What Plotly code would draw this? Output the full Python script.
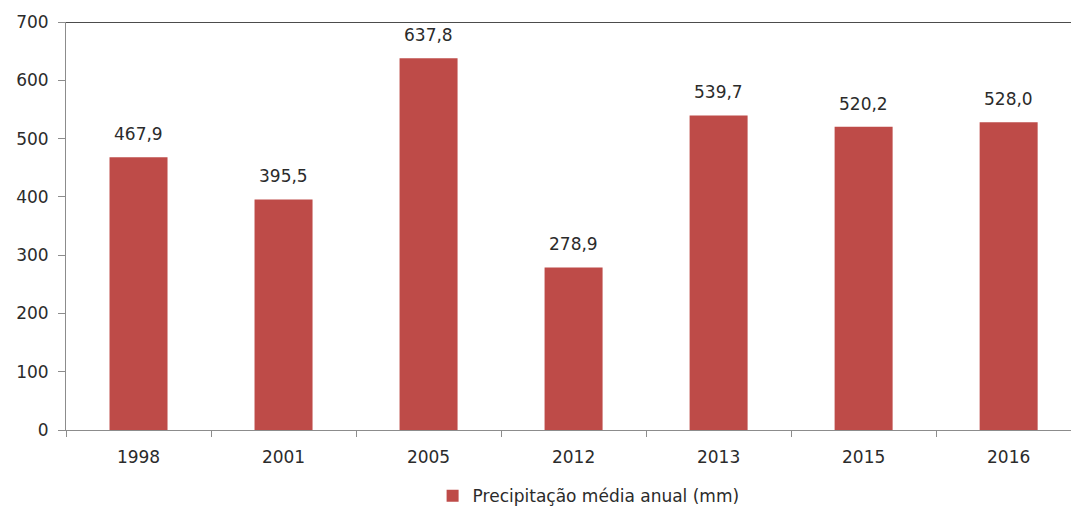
import plotly.graph_objects as go

anos = ["1998", "2001", "2005", "2012", "2013", "2015", "2016"]
precipitacao = [467.9, 395.5, 637.8, 278.9, 539.7, 520.2, 528.0]
serie_nome = "Precipitação média anual (mm)"

cor_barra = "#BE4B48"
fonte = "DejaVu Sans"
cor_texto = "#2B2B2B"
cor_eixo = "#8C8C8C"

fig = go.Figure()
fig.add_trace(go.Bar(
    x=anos,
    y=precipitacao,
    name=serie_nome,
    marker=dict(color=cor_barra, line=dict(width=0)),
    showlegend=True,
))

# rótulos de valor acima de cada barra (vírgula decimal)
for i, valor in enumerate(precipitacao):
    fig.add_annotation(
        x=i, y=valor, xref="x", yref="y",
        text=f"{valor:.1f}".replace(".", ","),
        showarrow=False, yanchor="bottom", yshift=11,
        font=dict(family=fonte, size=17, color=cor_texto),
    )

# linha superior na altura máxima da escala
fig.add_shape(type="line", xref="paper", yref="y", x0=0, x1=1, y0=700, y1=700,
              line=dict(color="#111111", width=1.5))

fig.update_layout(
    width=1071, height=512,
    margin=dict(l=66, r=0, t=22, b=82, autoexpand=False),
    paper_bgcolor="white", plot_bgcolor="white",
    bargap=0.6,
    font=dict(family=fonte, size=17, color=cor_texto),
    showlegend=True,
    legend=dict(orientation="h", x=0.52, xanchor="center",
                yref="container", y=0.031, yanchor="middle",
                font=dict(family=fonte, size=17, color=cor_texto),
                itemwidth=30),
    xaxis=dict(
        type="category",
        range=[-0.5, 6.43],
        showline=True, linecolor=cor_eixo, linewidth=1,
        ticks="outside", tickson="boundaries", ticklen=6, tickcolor=cor_eixo,
        showgrid=False, automargin=False,
        ticklabelstandoff=12,
        tickfont=dict(family=fonte, size=17, color=cor_texto),
    ),
    yaxis=dict(
        range=[0, 700], dtick=100,
        showline=True, linecolor=cor_eixo, linewidth=1,
        ticks="outside", ticklen=7, tickcolor=cor_eixo,
        showgrid=False, zeroline=False, automargin=False,
        ticklabelstandoff=6,
        tickfont=dict(family=fonte, size=17, color=cor_texto),
    ),
)

fig.write_html("out.html")
